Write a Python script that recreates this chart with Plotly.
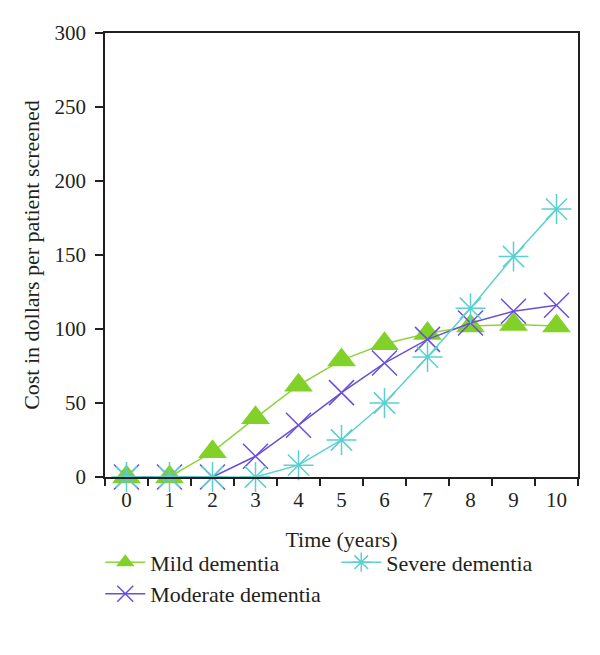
import plotly.graph_objects as go

years = list(range(11))
mild = [0, 0, 17, 40, 62, 79, 90, 97, 102, 103, 102]
moderate = [0, 0, 0, 14, 35, 57, 77, 93, 104, 112, 116]
severe = [0, 0, 0, 0, 8, 25, 50, 81, 114, 149, 181]

y_ticks = [0, 50, 100, 150, 200, 250, 300]

FONT = "Liberation Serif"
INK = "#231f20"

fig = go.Figure()
fig.add_trace(go.Scatter(
    x=years, y=mild, name="Mild dementia", mode="lines+markers",
    line=dict(color="#90d43c", width=1.5),
    marker=dict(symbol="triangle-up", size=25, color="#82d128"),
    legendrank=1, cliponaxis=False,
))
fig.add_trace(go.Scatter(
    x=years, y=moderate, name="Moderate dementia", mode="lines+markers",
    line=dict(color="#6a4fd9", width=1.5),
    marker=dict(symbol="x-thin-open", size=25, color="#6a4fd9",
                line=dict(color="#6a4fd9", width=1.5)),
    legendrank=3, cliponaxis=False,
))
fig.add_trace(go.Scatter(
    x=years, y=severe, name="Severe dementia", mode="lines+markers",
    line=dict(color="#5ccfd0", width=1.5),
    marker=dict(symbol="asterisk-open", size=25, color="#5ccfd0",
                line=dict(color="#5ccfd0", width=1.5)),
    legendrank=2, cliponaxis=False,
))

# page body has an 8px default margin; figure sized/margined to compensate
fig.update_layout(
    width=592, height=647,
    margin=dict(l=97, r=22, t=25, b=178),
    paper_bgcolor="white", plot_bgcolor="white",
    font=dict(family=FONT, size=21, color=INK),
    showlegend=True,
    legend=dict(
        orientation="h", x=-0.01, xanchor="left", y=-0.145, yanchor="top",
        entrywidth=181, entrywidthmode="pixels",
        font=dict(family=FONT, size=22, color=INK),
        itemwidth=40, tracegroupgap=0,
    ),
    xaxis=dict(
        range=[-0.5, 10.5], tickvals=years, ticktext=[str(v) for v in years],
        ticks="", showgrid=False, zeroline=False, automargin=False,
        showline=True, linecolor=INK, linewidth=1.5, mirror=True,
        minor=dict(tick0=0.5, dtick=1, ticks="outside", ticklen=7,
                   tickcolor=INK, tickwidth=1.5),
        ticklabelstandoff=3,
        title=dict(text="Time (years)", standoff=21, font=dict(size=22)),
        tickfont=dict(size=21),
    ),
    yaxis=dict(
        range=[0, 300], tickvals=y_ticks, ticks="outside", ticklen=8,
        tickcolor=INK, tickwidth=1.5, automargin=False,
        showgrid=False, zeroline=False, ticklabelstandoff=5,
        showline=True, linecolor=INK, linewidth=1.5, mirror=True,
        title=dict(text="Cost in dollars per patient screened", standoff=9,
                   font=dict(size=22)),
        tickfont=dict(size=21),
    ),
)

fig.write_html("out.html")
